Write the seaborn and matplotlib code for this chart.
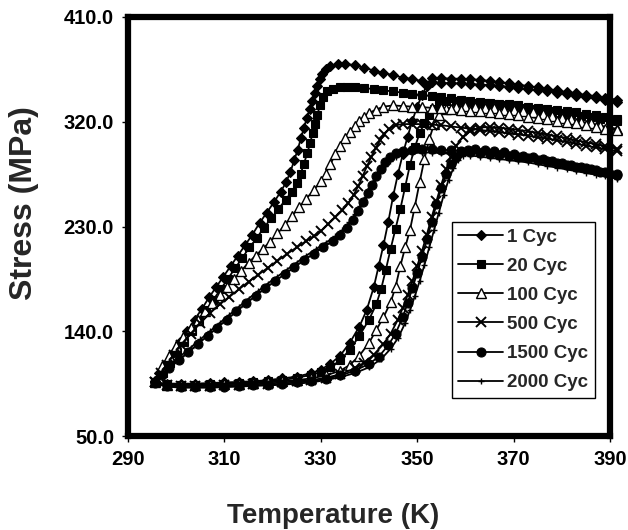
import matplotlib
matplotlib.use("Agg")
import matplotlib.pyplot as plt
import pandas as pd
import seaborn as sns

# ---------------- data: (temperature K, stress MPa) ----------------
heat_1 = [(295.5, 96), (298, 95), (301, 95), (304, 95), (307, 95.5), (310, 96), (313, 96.5), (316, 97),
          (319, 98), (322, 99.5), (325, 101), (328, 104), (330, 107), (332, 112), (334, 119), (336, 130),
          (338, 144), (339.5, 158), (341, 178), (342, 196), (343, 214), (344, 234), (345, 256), (346, 275),
          (347, 292), (348, 307), (349, 321), (350, 333), (351, 343), (352, 351), (353, 358), (355, 357.5),
          (357, 357), (359, 357), (361, 356.5), (363, 356), (365, 355), (367, 354), (369, 353), (371, 352),
          (373, 350.5), (375, 349.5), (377, 348), (379, 347), (381, 345.5), (383, 344.5), (385, 343),
          (387, 342), (389, 340.5), (391.4, 339)]
cool_1 = [(391.4, 337), (389, 338.5), (387, 340), (385, 341), (383, 342.5), (381, 343.5), (379, 345),
          (377, 346), (375, 347), (373, 348), (371, 349), (369, 350), (367, 351), (365, 351.5), (363, 352),
          (361, 352.5), (359, 353), (357, 353), (355, 353.5), (353, 354), (351, 355), (349, 356.5),
          (347, 358), (345, 360), (343, 362), (341, 364), (339, 366.5), (337, 368.5), (335, 370),
          (333.5, 369.5), (332, 367.5), (331, 365), (330.3, 361), (329.8, 357), (329.2, 351), (328.7, 345),
          (328.2, 338), (327.7, 331), (327.1, 323), (326.5, 315), (325.9, 306), (325.2, 296), (324.5, 287),
          (323.7, 277), (322.8, 268), (321.7, 260), (320.3, 251), (318.8, 242), (317.3, 233), (315.8, 223),
          (314.3, 214), (312.8, 205), (311.3, 196), (309.8, 187), (308.3, 178), (306.8, 169), (305.3, 159),
          (303.8, 150), (302.3, 140), (300.8, 131), (299.3, 121), (297.8, 112), (296.5, 104), (295.5, 97)]

heat_20 = [(295.5, 96), (298, 94.5), (301, 94), (304, 94), (307, 94.5), (310, 95), (313, 95.5), (316, 96),
           (319, 97), (322, 98), (325, 100), (328, 102.5), (330, 105), (332, 109), (334, 115), (336, 124),
           (338, 136), (340, 150), (341.5, 163), (342.5, 176), (343.5, 193), (344.5, 211), (345.5, 228),
           (346.5, 245), (347.5, 264), (348.5, 283), (349.5, 298), (350.5, 310), (351.5, 319), (352.5, 326),
           (353.5, 331), (354.5, 335), (356, 337.5), (358, 337.5), (360, 337), (362, 336.5), (364, 336),
           (366, 335), (368, 334), (370, 333), (372, 332), (374, 331), (376, 330), (378, 329), (380, 327.5),
           (382, 326.5), (384, 325), (386, 324), (388, 322.5), (390, 321.5), (391.4, 320.5)]
cool_20 = [(391.4, 322.5), (389, 324), (387, 325.5), (385, 326.5), (383, 328), (381, 329), (379, 330),
           (377, 331), (375, 332), (373, 333), (371, 334), (369, 335), (367, 335.5), (365, 336.5), (363, 337),
           (361, 338), (359, 339), (357, 340), (355, 341), (353, 342), (351, 343), (349, 344), (347, 345),
           (345, 346), (343, 347), (341, 348), (339, 349), (337, 350), (335.5, 350), (334, 349.5),
           (332.5, 348.5), (331.3, 346), (330.4, 341), (329.8, 334), (329.3, 326), (328.8, 318), (328.3, 310),
           (327.8, 302), (327.2, 293), (326.5, 284), (325.8, 275), (325, 267), (324, 260), (322.7, 253),
           (321.2, 245), (319.7, 237), (318.2, 229), (316.7, 220), (315.2, 212), (313.7, 203), (312.2, 194),
           (310.7, 185), (309.2, 176), (307.7, 167), (306.2, 158), (304.7, 149), (303.2, 140), (301.7, 131),
           (300.2, 122), (298.7, 113), (297.2, 104), (295.5, 96)]

heat_100 = [(295.5, 96), (298, 94), (301, 93.5), (304, 93.5), (307, 94), (310, 94.5), (313, 95), (316, 95.5),
            (319, 96), (322, 97), (325, 98), (328, 99.5), (331, 102), (334, 106), (336, 111), (338, 119),
            (340, 130), (341.5, 141), (343, 152), (344.5, 165), (345.5, 178), (346.5, 196), (347.5, 212),
            (348.5, 227), (349.5, 247), (350.5, 268), (351.5, 288), (352.5, 305), (353.5, 318), (354.5, 326),
            (356, 331), (358, 333), (360, 333.5), (362, 333), (364, 332), (366, 331.5), (368, 330.5),
            (370, 330), (372, 329), (374, 328), (376, 326.5), (378, 325), (380, 323.5), (382, 322),
            (384, 320), (386, 318.5), (388, 316.5), (390, 315), (391.4, 314)]
cool_100 = [(391.4, 312.5), (389, 314), (387, 315.5), (385, 317), (383, 318.5), (381, 319.5), (379, 321),
            (377, 322), (375, 323), (373, 324.5), (371, 325.5), (369, 326.5), (367, 327.5), (365, 328),
            (363, 329), (361, 329.5), (359, 330.5), (357, 331), (355, 331.5), (353, 332), (351, 332.5),
            (349, 333), (347, 333.5), (345, 334), (343, 333), (341.5, 330.5), (340, 327.5), (339, 324.5),
            (338, 321), (337, 316.5), (336, 311.5), (335, 306), (334, 299.5), (333, 292), (332, 283.5),
            (331, 275.5), (330, 269), (328.5, 261), (327, 254), (325.5, 246.5), (324, 239), (322.5, 231),
            (321, 224), (319.5, 217), (318, 211), (316.5, 205), (315, 199), (313.5, 192), (312, 185),
            (310.5, 178), (309, 171), (307.5, 164), (306, 157), (304.5, 150), (303, 142.5), (301.5, 135),
            (300, 127), (298.5, 119), (297, 110), (295.5, 97)]

heat_500 = [(295.5, 96), (298, 93.5), (301, 93), (304, 93), (307, 93), (310, 93.5), (313, 94), (316, 94.5),
            (319, 95), (322, 96), (325, 97), (328, 98), (331, 100), (334, 103), (337, 108), (339, 113),
            (341, 120), (343, 129), (344.5, 138), (346, 150), (347, 160), (348, 171), (349, 183), (350, 196),
            (351, 209), (352, 223), (353, 238), (354, 252), (355, 266), (356, 279), (357, 290), (358, 299),
            (359.5, 307), (361, 312), (363, 315), (365, 315.5), (367, 315), (369, 314), (371, 313), (373, 312),
            (375, 310.5), (377, 309), (379, 307.5), (381, 306), (383, 304), (385, 302.5), (387, 300.5),
            (389, 299), (391.4, 297)]
cool_500 = [(391.4, 295), (389, 296.5), (387, 298), (385, 299.5), (383, 301), (381, 302.5), (379, 304),
            (377, 305.5), (375, 306.5), (373, 308), (371, 309), (369, 310), (367, 311), (365, 312), (363, 313),
            (361, 314), (359, 315), (357, 316), (355, 317), (353, 317.5), (351, 318), (349, 318), (347, 318),
            (345.5, 317), (344.2, 314), (343.2, 309.5), (342.3, 304), (341.4, 297.5), (340.5, 290),
            (339.6, 282), (338.7, 273.5), (337.8, 265), (336.8, 257), (335.7, 250), (334.5, 244), (333, 238),
            (331.5, 232), (330, 226), (328.5, 221.5), (327, 217.5), (325, 212), (323, 206.5), (321, 200.5),
            (319, 194.5), (317, 188.5), (315, 182.5), (313, 176), (311, 169.5), (309, 163), (307, 155.5),
            (305, 147), (303, 138), (301, 128.5), (299.5, 120), (298, 111), (296.8, 104), (295.5, 96)]

heat_1500 = [(295.5, 95.5), (298, 93), (301, 92), (304, 92), (307, 92), (310, 92.5), (313, 93), (316, 93.5),
             (319, 94), (322, 95), (325, 96), (328, 97), (331, 99), (334, 102), (337, 106), (340, 112),
             (342, 118), (344, 128), (345.5, 138), (347, 152), (348, 164), (349, 177), (350, 190), (351, 204),
             (352, 219), (353, 234), (354, 249), (355, 263), (356, 275), (357, 284), (358, 290), (359, 294),
             (360.5, 296), (362, 296.5), (364, 296), (366, 295), (368, 294), (370, 292.5), (372, 291),
             (374, 289.5), (376, 288), (378, 286), (380, 284.5), (382, 283), (384, 281), (386, 279),
             (388, 277), (390, 275), (391.4, 274)]
cool_1500 = [(391.4, 275.5), (389, 277), (387, 278.5), (385, 280), (383, 281.5), (381, 283), (379, 284.5),
             (377, 286), (375, 287), (373, 288.5), (371, 289.5), (369, 290.5), (367, 291.5), (365, 292.5),
             (363, 293.5), (361, 294), (359, 295), (357, 295.5), (355, 296), (353, 296.5), (351, 296.5),
             (349, 296), (347, 295), (345.5, 293), (344.3, 289.5), (343.3, 285), (342.4, 279.5), (341.5, 273),
             (340.6, 266), (339.7, 258.5), (338.8, 251), (337.8, 243.5), (336.7, 236), (335.4, 229), (334, 223),
             (332.5, 217.5), (330.5, 212), (328.5, 206.5), (326.5, 201), (324.5, 195), (322.5, 189),
             (320.5, 183), (318.5, 177), (316.5, 170.5), (314.5, 164), (312.5, 157), (310.5, 150),
             (308.5, 143), (306.5, 136), (304.5, 129), (302.5, 122), (300.5, 115), (298.5, 108), (297, 102),
             (295.5, 96)]

heat_2000 = [(295.5, 95), (298, 92.5), (301, 91.5), (304, 91.5), (307, 91.5), (310, 92), (313, 92.5), (316, 93),
             (319, 93.5), (322, 94), (325, 95), (328, 96), (331, 98), (334, 100.5), (337, 104), (340, 109),
             (342.5, 116), (344.5, 125), (346, 134), (347.5, 147), (348.5, 158), (349.5, 170), (350.5, 183),
             (351.5, 197), (352.5, 212), (353.5, 227), (354.5, 242), (355.5, 257), (356.5, 270), (357.5, 280),
             (358.5, 287), (359.5, 291), (361, 293.5), (363, 294.5), (365, 294), (367, 293), (369, 292),
             (371, 290.5), (373, 289), (375, 287.5), (377, 286), (379, 284), (381, 282.5), (383, 280.5),
             (385, 278.5), (387, 276.5), (389, 274.5), (391.4, 272)]
cool_2000 = [(391.4, 271), (389, 273), (387, 274.5), (385, 276), (383, 277.5), (381, 279), (379, 280.5),
             (377, 282), (375, 283.5), (373, 285), (371, 286), (369, 287), (367, 288), (365, 289), (363, 290),
             (361, 291), (359, 292), (357, 292.5), (355, 293), (353, 293.5), (351, 293.5), (349, 293),
             (347, 292), (345.5, 290), (344.3, 286.5), (343.3, 282), (342.3, 276.5), (341.3, 270), (340.3, 263),
             (339.3, 255.5), (338.2, 248), (337.1, 240.5), (335.9, 233.5), (334.5, 227), (333, 221.5),
             (331, 216), (329, 210.5), (327, 205), (325, 199), (323, 193), (321, 187), (319, 181),
             (317, 174.5), (315, 168), (313, 161), (311, 154), (309, 147), (307, 140), (305, 133), (303, 126),
             (301, 119), (299, 111.5), (297.3, 104), (295.5, 95.5)]

cycle_labels = ["1 Cyc", "20 Cyc", "100 Cyc", "500 Cyc", "1500 Cyc", "2000 Cyc"]
x_ticks = [290, 310, 330, 350, 370, 390]
y_ticks = [50.0, 140.0, 230.0, 320.0, 410.0]

# ---------------- styling ----------------
sns.set_style("ticks")
plt.rcParams["font.family"] = ["Liberation Sans", "DejaVu Sans"]
plt.rcParams["font.weight"] = "bold"

branches = [(heat_1, cool_1), (heat_20, cool_20), (heat_100, cool_100),
            (heat_500, cool_500), (heat_1500, cool_1500), (heat_2000, cool_2000)]
marker_styles = [
    dict(marker="D", markersize=5.5, markerfacecolor="black", markeredgecolor="black", markeredgewidth=0.8),
    dict(marker="s", markersize=5.5, markerfacecolor="black", markeredgecolor="black", markeredgewidth=0.8),
    dict(marker="^", markersize=6.5, markerfacecolor="white", markeredgecolor="black", markeredgewidth=1.0),
    dict(marker="x", markersize=6.5, markerfacecolor="black", markeredgecolor="black", markeredgewidth=1.4),
    dict(marker="o", markersize=6.5, markerfacecolor="black", markeredgecolor="black", markeredgewidth=0.8),
    dict(marker="+", markersize=4.5, markerfacecolor="black", markeredgecolor="black", markeredgewidth=1.0),
]

fig = plt.figure(figsize=(6.28, 5.30), dpi=100)
ax = fig.add_axes([128 / 628, 94 / 530, 482 / 628, 419 / 530])

for label, (heat, cool), mstyle in zip(cycle_labels, branches, marker_styles):
    pts = heat + cool
    df = pd.DataFrame({"Temperature": [p[0] for p in pts], "Stress": [p[1] for p in pts]})
    sns.lineplot(data=df, x="Temperature", y="Stress", sort=False, estimator=None, ax=ax,
                 color="black", linewidth=1.3, label=label, clip_on=False, **mstyle)

ax.set_xlim(290, 390)
ax.set_ylim(50, 410)
ax.set_xticks(x_ticks)
ax.set_yticks(y_ticks)
ax.set_yticklabels([f"{v:.1f}" for v in y_ticks])
ax.tick_params(axis="both", direction="out", length=4, width=1, pad=6, labelsize=14.5, colors="black")
for lab in ax.get_xticklabels() + ax.get_yticklabels():
    lab.set_fontweight("bold")

for side in ["left", "right", "top", "bottom"]:
    ax.spines[side].set_visible(True)
    ax.spines[side].set_linewidth(4.5)
    ax.spines[side].set_color("black")
    ax.spines[side].set_capstyle("projecting")

ax.set_xlabel("Temperature (K)", fontsize=20, fontweight="bold")
ax.set_ylabel("Stress (MPa)", fontsize=23, fontweight="bold")
ax.xaxis.set_label_coords(0.425, -0.160)
ax.yaxis.set_label_coords(-0.185, 0.556)

leg = ax.legend(loc="upper left", bbox_to_anchor=(0.672, 0.511), borderaxespad=0, frameon=True,
                fancybox=False, edgecolor="black", framealpha=1, handlelength=2.4, handletextpad=0.2,
                labelspacing=0.64, borderpad=0.35, prop=dict(weight="bold", size=13.5))
leg.get_frame().set_linewidth(1.0)

fig.savefig("out.png", dpi=100, facecolor="white")
